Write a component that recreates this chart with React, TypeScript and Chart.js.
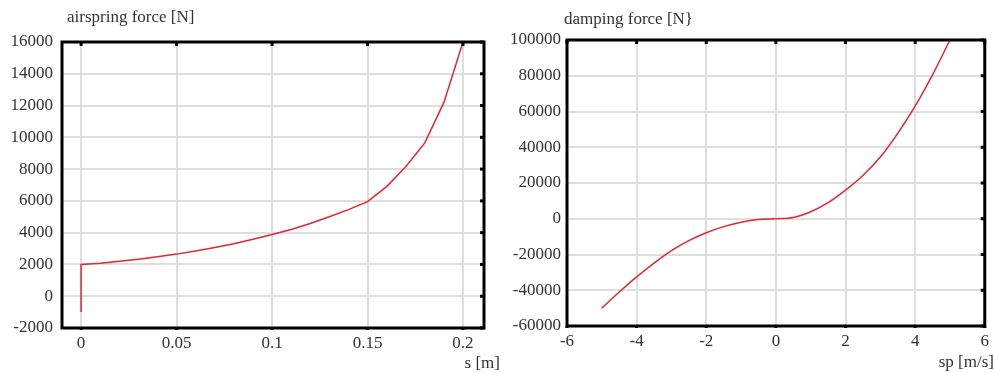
import React, { useEffect, useRef } from "react";
import { Chart, registerables } from "chart.js";

Chart.register(...registerables);

// ---- Left chart data (airspring force) ----
const sValues = [0, 0, 0.01, 0.02, 0.03, 0.04, 0.05, 0.06, 0.07, 0.08, 0.09, 0.1, 0.11, 0.12, 0.13, 0.14, 0.15, 0.16, 0.17, 0.18, 0.19, 0.2];
const airForce = [-1000, 2000, 2080, 2200, 2330, 2480, 2650, 2850, 3060, 3300, 3580, 3880, 4200, 4580, 5000, 5450, 5950, 6900, 8150, 9650, 12200, 16000];
const sTicks = [0, 0.05, 0.1, 0.15, 0.2];
const airTicks = [-2000, 0, 2000, 4000, 6000, 8000, 10000, 12000, 14000, 16000];
const airTitle = "airspring force [N]";
const sLabel = "s [m]";

// ---- Right chart data (damping force) ----
const spValues = [-5, -4.5, -4, -3.5, -3, -2.5, -2, -1.5, -1, -0.5, 0, 0.5, 1, 1.5, 2, 2.5, 3, 3.5, 4, 4.5, 5];
const dampForce = [-50000, -41000, -32500, -24800, -17800, -12200, -7800, -4400, -1900, -400, 0, 700, 3900, 9000, 16000, 24200, 34500, 47800, 63000, 80500, 100000];
const spTicks = [-6, -4, -2, 0, 2, 4, 6];
const dampTicks = [-60000, -40000, -20000, 0, 20000, 40000, 60000, 80000, 100000];
const dampTitle = "damping force [N}";
const spLabel = "sp [m/s]";

const FONT = "'Liberation Serif', 'Times New Roman', serif";
const TEXT = "#333333";
const RED = "#e3262f";
const GRID = "#dedede";
const FS = 17;

type Cfg = {
  xs: number[]; ys: number[]; xTicks: number[]; yTicks: number[];
  xMin: number; xMax: number; yMin: number; yMax: number;
  title: string; xLabel: string;
  yAxisWidth: number; yPad: number; xAxisHeight: number; top: number; right: number;
  titleDx: number; titleY: number; xLabelY: number; xLabelRight: number;
  smooth: boolean;
};

function makeChart(canvas: HTMLCanvasElement, c: Cfg) {
  const framePlugin = {
    id: "frame",
    afterDraw(chart: any) {
      const { ctx, chartArea: a } = chart;
      const xs = chart.scales.x, ys = chart.scales.y;
      ctx.save();
      ctx.strokeStyle = "#000";
      ctx.lineWidth = 3;
      ctx.strokeRect(a.left, a.top, a.right - a.left, a.bottom - a.top);
      for (const v of c.xTicks) {
        const px = xs.getPixelForValue(v);
        ctx.beginPath(); ctx.moveTo(px, a.top); ctx.lineTo(px, a.top + 4); ctx.stroke();
        ctx.beginPath(); ctx.moveTo(px, a.bottom); ctx.lineTo(px, a.bottom + 2); ctx.stroke();
      }
      for (const v of c.yTicks) {
        const py = ys.getPixelForValue(v);
        ctx.beginPath(); ctx.moveTo(a.right - 4, py); ctx.lineTo(a.right, py); ctx.stroke();
      }
      ctx.fillStyle = TEXT;
      ctx.font = `${FS}px ${FONT}`;
      ctx.textBaseline = "middle";
      ctx.textAlign = "left";
      ctx.fillText(c.title, a.left + c.titleDx, c.titleY);
      ctx.textAlign = "right";
      ctx.fillText(c.xLabel, c.xLabelRight, c.xLabelY);
      ctx.restore();
    },
  };

  return new Chart(canvas, {
    type: "line",
    data: {
      datasets: [{
        data: c.xs.map((x, i) => ({ x, y: c.ys[i] })),
        borderColor: RED,
        borderWidth: 1.5,
        pointRadius: 0,
        fill: false,
        tension: c.smooth ? 0.4 : 0,
        cubicInterpolationMode: c.smooth ? "monotone" : "default",
      }],
    },
    options: {
      animation: false,
      responsive: false,
      layout: { padding: { top: c.top, right: c.right, left: 0, bottom: 0 } },
      plugins: { legend: { display: false }, tooltip: { enabled: false }, title: { display: false } },
      scales: {
        x: {
          type: "linear",
          min: c.xMin, max: c.xMax,
          afterBuildTicks: (s: any) => { s.ticks = c.xTicks.map((v) => ({ value: v })); },
          afterFit: (s: any) => { s.height = c.xAxisHeight; },
          grid: { color: GRID, lineWidth: 2, drawTicks: false },
          border: { display: false },
          ticks: { color: TEXT, font: { family: FONT, size: FS }, padding: 5, maxRotation: 0, autoSkip: false, callback: (v: any) => String(v) },
        },
        y: {
          type: "linear",
          min: c.yMin, max: c.yMax,
          afterBuildTicks: (s: any) => { s.ticks = c.yTicks.map((v) => ({ value: v })); },
          afterFit: (s: any) => { s.width = c.yAxisWidth; },
          grid: { color: GRID, lineWidth: 2, drawTicks: false },
          border: { display: false },
          ticks: { color: TEXT, font: { family: FONT, size: FS }, padding: c.yPad, autoSkip: false, callback: (v: any) => String(v) },
        },
      },
    } as any,
    plugins: [framePlugin],
  });
}

export default function App() {
  const leftRef = useRef<HTMLCanvasElement>(null);
  const rightRef = useRef<HTMLCanvasElement>(null);

  useEffect(() => {
    const a = makeChart(leftRef.current!, {
      xs: sValues, ys: airForce, xTicks: sTicks, yTicks: airTicks,
      xMin: -0.01, xMax: 0.211, yMin: -2000, yMax: 16000,
      title: airTitle, xLabel: sLabel,
      yAxisWidth: 62, yPad: 9, xAxisHeight: 45, top: 42, right: 21,
      titleDx: 5, titleY: 18, xLabelY: 364, xLabelRight: 500,
      smooth: false,
    });
    const b = makeChart(rightRef.current!, {
      xs: spValues, ys: dampForce, xTicks: spTicks, yTicks: dampTicks,
      xMin: -6, xMax: 6, yMin: -60000, yMax: 100000,
      title: dampTitle, xLabel: spLabel,
      yAxisWidth: 67, yPad: 6, xAxisHeight: 47, top: 40, right: 9,
      titleDx: -3, titleY: 20, xLabelY: 363, xLabelRight: 494,
      smooth: true,
    });
    return () => { a.destroy(); b.destroy(); };
  }, []);

  return (
    <div style={{ position: "absolute", left: 0, top: 0, width: 994, height: 373, background: "#fff" }}>
      <canvas ref={leftRef} width={505} height={373} style={{ position: "absolute", left: 0, top: 0, width: 505, height: 373 }} />
      <canvas ref={rightRef} width={494} height={373} style={{ position: "absolute", left: 500, top: 0, width: 494, height: 373 }} />
    </div>
  );
}
